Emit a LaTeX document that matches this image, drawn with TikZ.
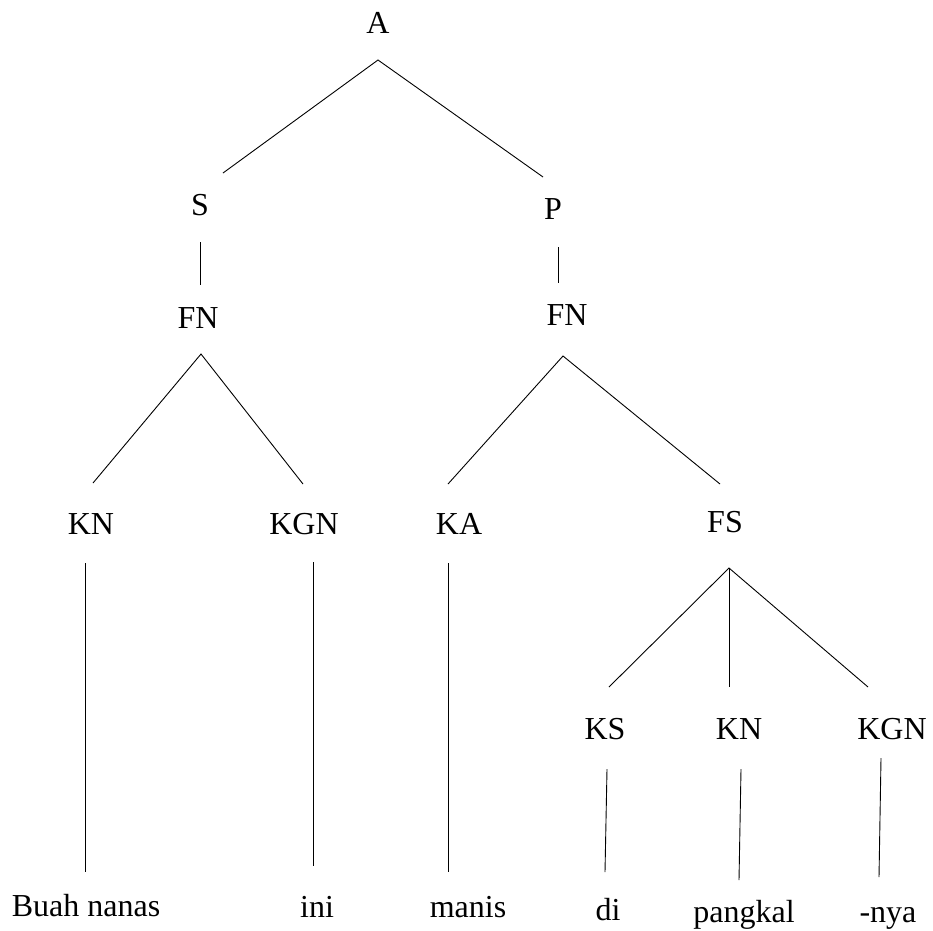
\documentclass[tikz,border=0pt]{standalone}
\usepackage{fontspec}
\setmainfont{Liberation Serif}
\begin{document}
\begin{tikzpicture}[x=1pt,y=-1pt,
  lbl/.style={anchor=base,inner sep=0pt,font=\fontsize{32}{38}\selectfont},
  edge/.style={draw=black,line width=0.9pt}]
\useasboundingbox[fill=white] (0,0) rectangle (933,930);
% labels
\node[lbl] (A) at (378,33) {A};
\node[lbl] (S) at (200,215) {S};
\node[lbl] (P) at (553,219) {P};
\node[lbl] (FNa) at (198,328) {FN};
\node[lbl] (FNb) at (567,325) {FN};
\node[lbl] (KNa) at (91,534) {KN};
\node[lbl] (KGNa) at (304,534) {KGN};
\node[lbl] (KA) at (459,534) {KA};
\node[lbl] (FS) at (725,532) {FS};
\node[lbl] (KS) at (605,739) {KS};
\node[lbl] (KNb) at (739,739) {KN};
\node[lbl] (KGNb) at (892,739) {KGN};
\node[lbl] (w1) at (86,916) {Buah nanas};
\node[lbl] (w2) at (317,917) {ini};
\node[lbl] (w3) at (468,917) {manis};
\node[lbl] (w4) at (608,920) {di};
\node[lbl] (w5) at (744,922) {pangkal};
\node[lbl] (w6) at (888,922) {-nya};
% connector end points
\coordinate (A-b) at (378,60);
\coordinate (S-t) at (223,173);
\coordinate (P-t) at (543,177);
\coordinate (S-b) at (200,242);
\coordinate (FNa-t) at (200,285);
\coordinate (P-b) at (558,247);
\coordinate (FNb-t) at (558,283);
\coordinate (FNa-b) at (201,354);
\coordinate (KNa-t) at (93,483);
\coordinate (KGNa-t) at (303,484);
\coordinate (FNb-b) at (563,356);
\coordinate (KA-t) at (448,484);
\coordinate (FS-t) at (720,484);
\coordinate (KNa-b) at (85,563);
\coordinate (w1-t) at (85,872);
\coordinate (KGNa-b) at (313,562);
\coordinate (w2-t) at (313,866);
\coordinate (KA-b) at (448,563);
\coordinate (w3-t) at (448,872);
\coordinate (FS-b) at (729,568);
\coordinate (KS-t) at (609,687);
\coordinate (KNb-t) at (729,687);
\coordinate (KGNb-t) at (868,687);
\coordinate (KS-b) at (607,769);
\coordinate (w4-t) at (605,872);
\coordinate (KNb-b) at (741,769);
\coordinate (w5-t) at (739,880);
\coordinate (KGNb-b) at (881,758);
\coordinate (w6-t) at (879,877);
% connectors
\draw[edge] (S-t) -- (A-b) -- (P-t);
\draw[edge] (S-b) -- (FNa-t);
\draw[edge] (P-b) -- (FNb-t);
\draw[edge] (KNa-t) -- (FNa-b) -- (KGNa-t);
\draw[edge] (KA-t) -- (FNb-b) -- (FS-t);
\draw[edge] (KNa-b) -- (w1-t);
\draw[edge] (KGNa-b) -- (w2-t);
\draw[edge] (KA-b) -- (w3-t);
\draw[edge] (KS-t) -- (FS-b) -- (KGNb-t);
\draw[edge] (FS-b) -- (KNb-t);
\draw[edge] (KS-b) -- (w4-t);
\draw[edge] (KNb-b) -- (w5-t);
\draw[edge] (KGNb-b) -- (w6-t);
\end{tikzpicture}
\end{document}
